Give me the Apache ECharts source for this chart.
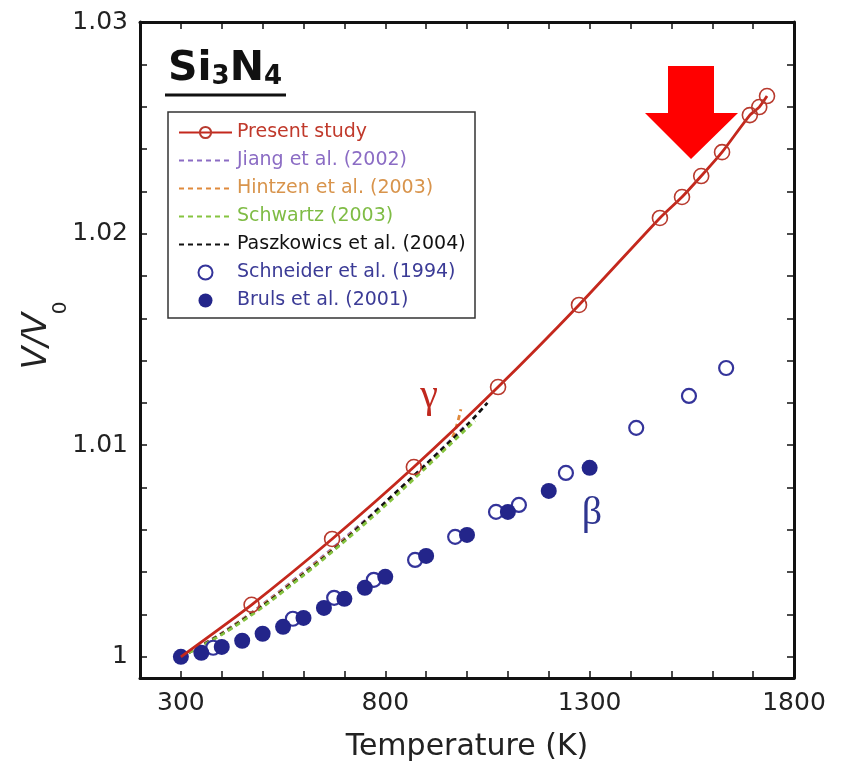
<!DOCTYPE html>
<html><head><meta charset="utf-8">
<script src="https://cdn.jsdelivr.net/npm/echarts@6/dist/echarts.min.js"></script>
<style>html,body{margin:0;padding:0;background:#fff}#c{width:841px;height:770px}</style>
</head><body><div id="c"></div>
<script>
// ---- data ----
const presentT = [300, 473, 670, 870, 1076, 1274, 1472, 1526, 1573, 1624, 1692, 1715, 1734];
const presentV = [1.0000, 1.00246, 1.00557, 1.00897, 1.01275, 1.01663, 1.02074, 1.02173, 1.02272, 1.02385, 1.02560, 1.02598, 1.02650];

const jiangT = [300, 400, 500, 600, 700, 800, 900, 1000];
const jiangV = [1.0000, 1.00112, 1.00248, 1.00400, 1.00560, 1.00730, 1.00910, 1.01100];

const hintzenT = [300, 400, 500, 600, 700, 800, 900, 960, 985];
const hintzenV = [1.0000, 1.00110, 1.00245, 1.00395, 1.00555, 1.00725, 1.00905, 1.01020, 1.01170];

const schwartzT = [300, 400, 500, 600, 700, 800, 900, 1000, 1020];
const schwartzV = [1.0000, 1.00105, 1.00235, 1.00385, 1.00545, 1.00715, 1.00895, 1.01080, 1.01115];

const paszT = [300, 400, 500, 600, 700, 800, 900, 1000, 1050];
const paszV = [1.0000, 1.00108, 1.00240, 1.00390, 1.00550, 1.00730, 1.00910, 1.01095, 1.01200];

const schneiderT = [379, 574, 675, 772, 873, 971, 1071, 1127, 1242, 1414, 1543, 1634];
const schneiderV = [1.00043, 1.00180, 1.00279, 1.00364, 1.00458, 1.00567, 1.00685, 1.00718, 1.00869, 1.01082, 1.01233, 1.01365];

const brulsT = [300, 350, 400, 450, 500, 550, 600, 650, 700, 750, 800, 900, 1000, 1100, 1200, 1300];
const brulsV = [1.0000, 1.00019, 1.00047, 1.00076, 1.00109, 1.00142, 1.00184, 1.00231, 1.00274, 1.00326, 1.00378, 1.00477, 1.00576, 1.00685, 1.00784, 1.00893];

const xLabelValues = [300, 800, 1300, 1800];
const yTickValues = [1.000, 1.002, 1.004, 1.006, 1.008, 1.010, 1.012, 1.014, 1.016, 1.018, 1.020, 1.022, 1.024, 1.026, 1.028, 1.030];
const yLabelValues = [1.00, 1.01, 1.02, 1.03];

const zip = (a, b) => a.map((v, i) => [v, b[i]]);

const RED = '#c4281d';
const BLUE = '#23258a';
const FONT = 'DejaVu Sans';

const chart = echarts.init(document.getElementById('c'));

const axisLine = {show: true, onZero: false, lineStyle: {color: '#111', width: 3}};
const tick = {show: true, inside: true, length: 7, lineStyle: {color: '#111', width: 1.5}};

const dashed = (name, t, v, color) => ({
  name, type: 'line', data: zip(t, v), showSymbol: false, symbol: 'none', smooth: 0.3,
  lineStyle: {color, width: 2.8, type: [5, 4]}, itemStyle: {color}, z: 3
});
const noSym = {color: 'rgba(0,0,0,0)', borderColor: 'rgba(0,0,0,0)', borderWidth: 0};

chart.setOption({
  animation: false,
  backgroundColor: '#fff',
  grid: {left: 140, right: 47, top: 22, bottom: 92},
  xAxis: [{
    type: 'value', min: 200, max: 1800, interval: 100, position: 'bottom',
    axisLine, axisTick: tick, splitLine: {show: false},
    axisLabel: {
      fontSize: 25, color: '#222', margin: 13, fontFamily: FONT,
      formatter: v => xLabelValues.includes(v) ? String(v) : ''
    },
    name: 'Temperature (K)', nameLocation: 'middle', nameGap: 54,
    nameTextStyle: {fontSize: 30, color: '#222', fontFamily: FONT}
  }, {
    type: 'value', min: 200, max: 1800, interval: 100, position: 'top',
    axisLine, axisTick: tick, splitLine: {show: false}, axisLabel: {show: false}
  }],
  yAxis: [{
    type: 'value', min: 0.999, max: 1.03, position: 'left',
    axisLine, axisTick: Object.assign({}, tick, {customValues: yTickValues}),
    splitLine: {show: false},
    axisLabel: {customValues: yLabelValues, fontSize: 25, color: '#222', margin: 12, fontFamily: FONT,
      formatter: v => String(Math.round(v * 100) / 100)}
  }, {
    type: 'value', min: 0.999, max: 1.03, position: 'right',
    axisLine, axisTick: Object.assign({}, tick, {customValues: yTickValues}),
    splitLine: {show: false}, axisLabel: {show: false}
  }],
  legend: {
    orient: 'vertical', left: 178, top: 123, padding: 0,
    itemWidth: 53, itemHeight: 14, itemGap: 9,
    textStyle: {fontSize: 19, fontFamily: FONT},
    selectedMode: false,
    data: [
      {name: 'Present study', textStyle: {color: '#c0392b'}},
      {name: 'Jiang et al. (2002)', textStyle: {color: '#8b6cc4'}, itemStyle: noSym},
      {name: 'Hintzen et al. (2003)', textStyle: {color: '#d8944c'}, itemStyle: noSym},
      {name: 'Schwartz (2003)', textStyle: {color: '#7fbc45'}, itemStyle: noSym},
      {name: 'Paszkowics et al. (2004)', textStyle: {color: '#111'}, itemStyle: noSym},
      {name: 'Schneider et al. (1994)', textStyle: {color: '#3b3b96'}},
      {name: 'Bruls et al. (2001)', textStyle: {color: '#3b3b96'}}
    ]
  },
  graphic: [
    {type: 'rect', shape: {x: 168, y: 112, width: 307, height: 206},
     style: {fill: 'none', stroke: '#333', lineWidth: 1.5}, z: 1},
    {type: 'text', x: 168, y: 90, z: 10,
     style: {text: '{a|Si}{b|3}{a|N}{b|4}', textVerticalAlign: 'bottom', fill: '#111',
       rich: {a: {fontSize: 41, fontWeight: 'bold', fontFamily: FONT, fill: '#111'},
              b: {fontSize: 26, fontWeight: 'bold', fontFamily: FONT, fill: '#111', verticalAlign: 'bottom'}}}},
    {type: 'line', shape: {x1: 165, y1: 95, x2: 286, y2: 95}, style: {stroke: '#111', lineWidth: 3}},
    {type: 'text', x: 37, y: 341, rotation: Math.PI / 2, z: 10,
     style: {text: 'V/V', fontSize: 33, fontStyle: 'italic', fontFamily: FONT, fill: '#222',
       textAlign: 'center', textVerticalAlign: 'middle'}},
    {type: 'text', x: 61, y: 308, rotation: Math.PI / 2, z: 10,
     style: {text: '0', fontSize: 20, fontFamily: FONT, fill: '#222',
       textAlign: 'center', textVerticalAlign: 'middle'}},
    {type: 'text', x: 429, y: 396, z: 10,
     style: {text: 'γ', fontSize: 40, fontFamily: 'Liberation Serif', fill: '#c0281e',
       textAlign: 'center', textVerticalAlign: 'middle'}},
    {type: 'text', x: 592, y: 513, z: 10,
     style: {text: 'β', fontSize: 40, fontFamily: 'Liberation Serif', fill: '#2f3590',
       textAlign: 'center', textVerticalAlign: 'middle'}},
    {type: 'polygon', z: 20,
     shape: {points: [[668, 66], [714, 66], [714, 113], [738, 113], [691, 159], [645, 113], [668, 113]]},
     style: {fill: '#ff0000'}}
  ],
  series: [
    dashed('Jiang et al. (2002)', jiangT, jiangV, '#8b6cc4'),
    dashed('Hintzen et al. (2003)', hintzenT, hintzenV, '#e08a3c'),
    dashed('Paszkowics et al. (2004)', paszT, paszV, '#111'),
    dashed('Schwartz (2003)', schwartzT, schwartzV, '#86c440'),
    {
      name: 'Schneider et al. (1994)', type: 'scatter', data: zip(schneiderT, schneiderV),
      symbol: 'circle', symbolSize: 14,
      itemStyle: {color: '#fff', borderColor: '#34349a', borderWidth: 2.2, opacity: 1}, z: 4
    },
    {
      name: 'Bruls et al. (2001)', type: 'scatter', data: zip(brulsT, brulsV),
      symbol: 'circle', symbolSize: 16,
      itemStyle: {color: BLUE, opacity: 1}, z: 5
    },
    {
      name: 'Present study', type: 'line',
      data: zip(presentT, presentV).map((p, i) => i === 0 ? {value: p, symbol: 'none'} : p),
      smooth: 0.2, symbol: 'circle', symbolSize: 15, showSymbol: true,
      lineStyle: {color: RED, width: 2.8},
      itemStyle: {color: 'rgba(255,255,255,0)', borderColor: '#b83a2e', borderWidth: 1.6},
      z: 6
    }
  ]
});
</script></body></html>
